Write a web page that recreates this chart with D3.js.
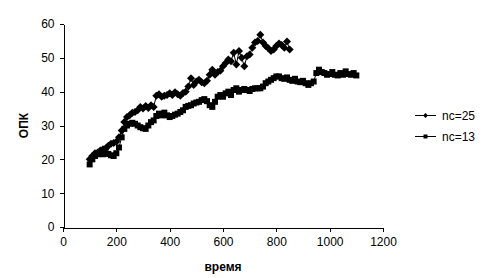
<!DOCTYPE html>
<html>
<head>
<meta charset="utf-8">
<script src="https://cdn.jsdelivr.net/npm/d3@7"></script>
<style>
  body { margin: 0; background: #fff; }
  svg { display: block; font-family: "Liberation Sans", Arial, sans-serif; }
</style>
</head>
<body>
<div id="chart"></div>
<script>
// данные снимались с картинки
let time_25 = [100, 110, 120, 130, 140, 150, 160, 170, 180, 190,
    200, 210, 220, 230, 240, 250, 260, 270, 280, 290,
    300, 310, 320, 330, 340, 350, 360, 370, 380, 390,
    400, 410, 420, 430, 440, 450, 460, 470, 480, 490,
    500, 510, 520, 530, 540, 550, 560, 570, 580, 590,
    600, 610, 620, 630, 640, 650, 660, 670, 680, 690,
    700, 710, 720, 730, 740, 750, 760, 770, 780, 790,
    800, 810, 820, 830, 840, 850];
let opk_25 = [20.0, 21.0, 21.8, 22.0, 22.6, 23.0, 23.2, 24.0, 24.6, 24.8,
    25.2, 26.5, 28.5, 31.0, 32.5, 33.0, 33.8, 34.0, 34.5, 35.5,
    35.0, 35.8, 35.2, 36.0, 35.5, 38.8, 39.2, 38.5, 38.8, 39.0,
    39.5, 39.0, 39.8, 39.2, 38.8, 39.6, 40.0, 41.5, 44.0, 42.0,
    43.0, 43.5, 42.8, 42.5, 43.2, 45.0, 46.5, 45.0, 45.8, 46.2,
    47.5, 48.5, 49.5, 49.0, 51.5, 48.0, 52.0, 50.0, 47.5, 50.5,
    51.0, 53.0, 54.5, 55.0, 56.8, 54.5, 53.5, 52.8, 52.0, 52.5,
    53.5, 54.2, 53.8, 53.0, 54.8, 52.5];

let time_13 = [100, 110, 120, 130, 140, 150, 160, 170, 180, 190,
    200, 210, 220, 230, 240, 250, 260, 270, 280, 290,
    300, 310, 320, 330, 340, 350, 360, 370, 380, 390,
    400, 410, 420, 430, 440, 450, 460, 470, 480, 490,
    500, 510, 520, 530, 540, 550, 560, 570, 580, 590,
    600, 610, 620, 630, 640, 650, 660, 670, 680, 690,
    700, 710, 720, 730, 740, 750, 760, 770, 780, 790,
    800, 810, 820, 830, 840, 850, 860, 870, 880, 890,
    900, 910, 920, 930, 940, 950, 960, 970, 980, 990,
    1000, 1010, 1020, 1030, 1040, 1050, 1060, 1070, 1080, 1090, 1100];
let opk_13 = [18.5, 20.0, 21.0, 21.5, 21.8, 21.5, 21.8, 21.6, 21.2, 21.0,
    21.8, 23.5, 26.5, 29.0, 30.0, 30.5, 30.8, 30.5, 30.0, 29.5,
    29.2, 29.0, 30.0, 31.0, 31.5, 32.8, 33.5, 33.0, 33.8, 33.0,
    32.5, 32.8, 33.2, 33.5, 34.0, 34.5, 35.5, 35.8, 36.0, 36.5,
    36.8, 37.0, 37.5, 37.8, 37.2, 36.0, 35.5, 37.0, 38.5, 39.0,
    38.5, 39.5, 40.0, 39.0, 40.5, 41.0, 40.0, 40.5, 40.8, 40.5,
    40.2, 40.8, 41.0, 41.0, 41.0, 41.5, 42.5, 43.0, 43.5, 44.0,
    44.5, 44.5, 44.0, 43.8, 44.2, 43.5, 43.2, 43.8, 43.0, 42.8,
    43.2, 42.5, 42.0, 42.5, 43.0, 45.5, 46.5, 45.8, 45.5, 45.0,
    45.2, 45.8, 45.0, 44.8, 45.5, 45.0, 46.0, 45.2, 45.0, 45.5, 44.8];

let x_ticks = [0, 200, 400, 600, 800, 1000, 1200];
let y_ticks = [0, 10, 20, 30, 40, 50, 60];
let series_names = ['nc=25', 'nc=13'];

let width = 486, height = 278;
let plot_left = 63, plot_right = 383, plot_top = 24, plot_bottom = 227;

let svg = d3.select('#chart')
    .append('svg')
    .attr('width', width)
    .attr('height', height);

let x = d3.scaleLinear().domain([0, 1200]).range([plot_left, plot_right]);
let y = d3.scaleLinear().domain([0, 60]).range([plot_bottom, plot_top]);

//оси
let x_axis = svg.append('g')
    .attr('transform', 'translate(0,' + (plot_bottom + 0.5) + ')')
    .call(d3.axisBottom(x).tickValues(x_ticks).tickFormat(d3.format('d'))
        .tickSize(4).tickSizeOuter(0).tickPadding(6));
let y_axis = svg.append('g')
    .attr('transform', 'translate(' + (plot_left + 0.5) + ',0)')
    .call(d3.axisLeft(y).tickValues(y_ticks).tickSize(4).tickSizeOuter(0).tickPadding(5));

[x_axis, y_axis].forEach(function (a) {
    a.selectAll('path, line').attr('stroke', '#000').attr('shape-rendering', 'crispEdges');
    a.selectAll('text').attr('fill', '#000').style('font-size', '12px');
});

//подписи осей
svg.append('text')
    .attr('x', (plot_left + plot_right) / 2)
    .attr('y', 271)
    .attr('text-anchor', 'middle')
    .style('font-size', '12px')
    .style('font-weight', 'bold')
    .text('время');

svg.append('text')
    .attr('transform', 'translate(28,' + ((plot_top + plot_bottom) / 2) + ') rotate(-90)')
    .attr('text-anchor', 'middle')
    .style('font-size', '12px')
    .style('font-weight', 'bold')
    .text('ОПК');

let line = d3.line()
    .x(function (d) { return x(d[0]); })
    .y(function (d) { return y(d[1]); });

let data_25 = time_25.map(function (t, i) { return [t, opk_25[i]]; });
let data_13 = time_13.map(function (t, i) { return [t, opk_13[i]]; });

let diamond = 'M0,-4L4,0L0,4L-4,0Z';
let square = 'M-3,-3H3V3H-3Z';

function draw_series(data, marker) {
    let g = svg.append('g');
    g.append('path')
        .datum(data)
        .attr('d', line)
        .attr('fill', 'none')
        .attr('stroke', '#000')
        .attr('stroke-width', 1);
    g.selectAll('path.m')
        .data(data)
        .enter()
        .append('path')
        .attr('class', 'm')
        .attr('d', marker)
        .attr('transform', function (d) { return 'translate(' + x(d[0]) + ',' + y(d[1]) + ')'; })
        .attr('fill', '#000');
}

draw_series(data_13, square);
draw_series(data_25, diamond);

//легенда
let legend_markers = [
    'M0,-2.5L2.5,0L0,2.5L-2.5,0Z',
    'M-2,-2H2V2H-2Z'
];
series_names.forEach(function (name, i) {
    let ly = 115 + i * 21;
    let lg = svg.append('g');
    lg.append('line')
        .attr('x1', 415).attr('x2', 436)
        .attr('y1', ly + 0.5).attr('y2', ly + 0.5)
        .attr('stroke', '#000')
        .attr('shape-rendering', 'crispEdges');
    lg.append('path')
        .attr('d', legend_markers[i])
        .attr('transform', 'translate(425.5,' + (ly + 0.5) + ')')
        .attr('fill', '#000');
    lg.append('text')
        .attr('x', 442)
        .attr('y', ly + 4.5)
        .style('font-size', '12px')
        .text(name);
});
</script>
</body>
</html>
